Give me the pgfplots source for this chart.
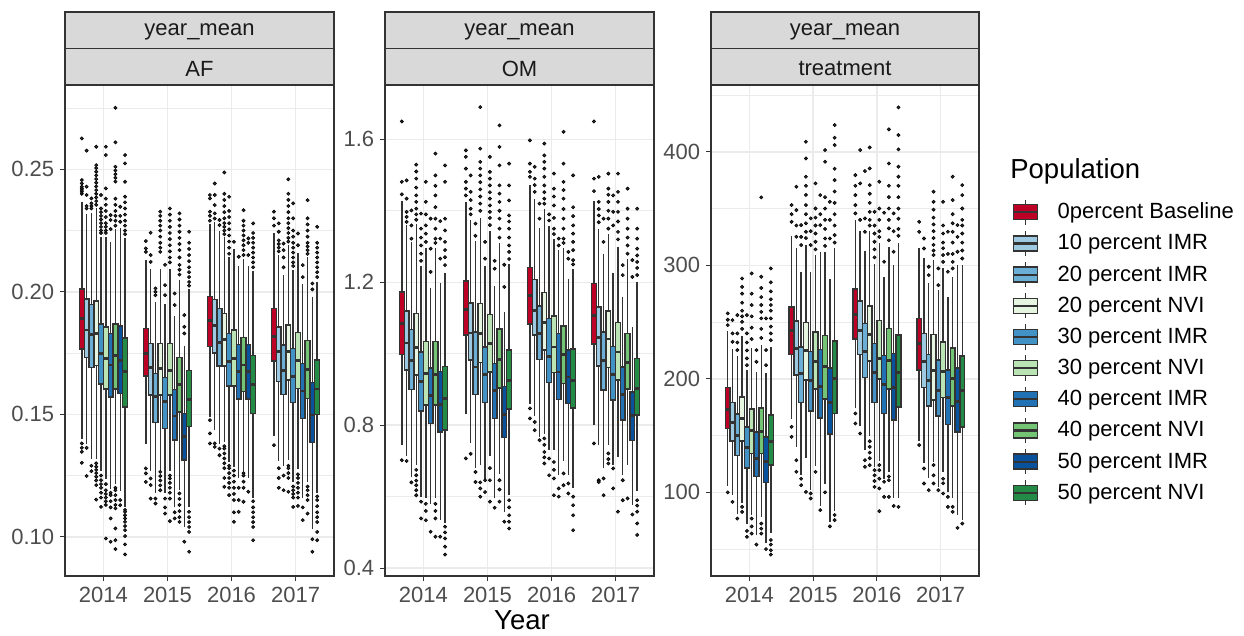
\documentclass[border=0pt]{standalone}
\usepackage{fontspec}
\setmainfont{Liberation Sans}
\usepackage{pgfplots}
\pgfplotsset{compat=1.18}
\usepgfplotslibrary{statistics}
\definecolor{c0}{HTML}{BD0026}
\definecolor{c1}{HTML}{9ECAE1}
\definecolor{c2}{HTML}{6BAED6}
\definecolor{c3}{HTML}{E5F5E0}
\definecolor{c4}{HTML}{4292C6}
\definecolor{c5}{HTML}{BAE4B3}
\definecolor{c6}{HTML}{2171B5}
\definecolor{c7}{HTML}{74C476}
\definecolor{c8}{HTML}{08519C}
\definecolor{c9}{HTML}{238B45}
\definecolor{gtwenty}{HTML}{333333}
\definecolor{gthirty}{HTML}{4D4D4D}
\definecolor{gten}{HTML}{1A1A1A}
\definecolor{gridc}{HTML}{EBEBEB}
\definecolor{stripc}{HTML}{D9D9D9}
\newcommand{\tfont}{\fontsize{13.2}{15.8}\selectfont}
\newcommand{\bfont}{\fontsize{16.5}{19.8}\selectfont}
\pgfplotsset{
  panel/.style={
    anchor=south west, scale only axis, height=294.6pt,
    xmin=0.4, xmax=4.6, xtick={1,2,3,4}, xticklabels={2014,2015,2016,2017},
    xtick pos=left, ytick pos=left, tick align=outside,
    major tick length=3pt, minor tick length=0pt,
    grid=both,
    major grid style={draw=gridc, line width=0.9pt},
    minor grid style={draw=gridc, line width=0.45pt},
    axis line style={draw=gtwenty, line width=0.9pt},
    tick style={draw=gtwenty, line width=0.7pt},
    ticklabel style={font=\tfont, text=gthirty},
    /pgf/number format/assume math mode=true,
  },
  bxp/.style={draw=gtwenty, line width=0.85pt, solid},
}
\newcommand{\bx}[8]{%
\addplot[bxp, fill=c#2, boxplot prepared={draw direction=y, draw position={#1+(#2-4.5)*0.075}, lower whisker=#3, lower quartile=#4, median=#5, upper quartile=#6, upper whisker=#7, box extend=0.075, whisker extend=0, every median/.style={line width=1.7pt}}] coordinates {};
\addplot[only marks, mark=*, mark size=0.95pt, mark options={draw=none, fill=gtwenty}] table[row sep=\\, x expr={#1+(#2-4.5)*0.075}, y index=0] {y\\#8};}
\begin{document}
\begin{tikzpicture}
\useasboundingbox (0,0) rectangle (746.4pt,381pt);
% ---------------- AF ----------------
\begin{axis}[panel, at={(39pt,35.4pt)}, width=161.4pt,
  ymin=0.084, ymax=0.2844, ytick={0.10,0.15,0.20,0.25}, minor ytick={0.125,0.175,0.225,0.275},
  yticklabel style={/pgf/number format/.cd, fixed, fixed zerofill, precision=2}]
\bx{1}{0}{0.140}{0.1766}{0.1891}{0.2011}{0.2366}{0.2400\\0.2408\\0.2415\\0.2422\\0.2429\\0.2442\\0.2456\\0.2626\\0.1381\\0.1363\\0.1347\\0.1302\\}
\bx{1}{1}{0.138}{0.1731}{0.1844}{0.1970}{0.2317}{0.2340\\0.2350\\0.2395\\0.2429\\0.2576\\0.1363\\0.1248\\}
\bx{1}{2}{0.1316}{0.1690}{0.1826}{0.1948}{0.2320}{0.2340\\0.2350\\0.2361\\0.2381\\0.1290\\0.1268\\}
\bx{1}{3}{0.1318}{0.1698}{0.1829}{0.1962}{0.2340}{0.2355\\0.2370\\0.2385\\0.2400\\0.2415\\0.2430\\0.2445\\0.2460\\0.2475\\0.2490\\0.2505\\0.2517\\0.2592\\0.1300\\0.1286\\0.1273\\0.1260\\0.1245\\0.1230\\0.1211\\0.1152\\}
\bx{1}{4}{0.1269}{0.1624}{0.1747}{0.1869}{0.2224}{0.2240\\0.2250\\0.2265\\0.2280\\0.2295\\0.2310\\0.2325\\0.2340\\0.2395\\0.1250\\0.1231\\0.1215\\0.1200\\0.1180\\0.1160\\0.1122\\}
\bx{1}{5}{0.1236}{0.1603}{0.1728}{0.1856}{0.2223}{0.2240\\0.2250\\0.2265\\0.2280\\0.2305\\0.2330\\0.2355\\0.2380\\0.2422\\0.2558\\0.2592\\0.1215\\0.1190\\0.1175\\0.1160\\0.1145\\0.1130\\0.0993\\}
\bx{1}{6}{0.1195}{0.1570}{0.1701}{0.1829}{0.2204}{0.2256\\0.2293\\0.2313\\0.1180\\0.1170\\0.1145\\0.1120\\0.1075\\0.0980\\}
\bx{1}{7}{0.1217}{0.1603}{0.1739}{0.1869}{0.2255}{0.2270\\0.2290\\0.2310\\0.2330\\0.2355\\0.2380\\0.2450\\0.2465\\0.2480\\0.2495\\0.2510\\0.2610\\0.2751\\0.1200\\0.1190\\0.1170\\0.1150\\0.1130\\0.1116\\0.1034\\0.0986\\0.0950\\}
\bx{1}{8}{0.1186}{0.1586}{0.1720}{0.1861}{0.2260}{0.2286\\0.2310\\0.2347\\0.1150\\0.1129\\}
\bx{1}{9}{0.1120}{0.1529}{0.1673}{0.1812}{0.2220}{0.2235\\0.2250\\0.2270\\0.2290\\0.2315\\0.2340\\0.2365\\0.2388\\0.2449\\0.2524\\0.2558\\0.1110\\0.1102\\0.1088\\0.1075\\0.1061\\0.1044\\0.1027\\0.1003\\0.0969\\0.0928\\}
\bx{2}{0}{0.138}{0.1657}{0.1748}{0.1850}{0.213}{0.2163\\0.2177\\0.2207\\0.1279\\0.1259\\0.1224\\}
\bx{2}{1}{0.127}{0.1578}{0.1690}{0.1789}{0.2095}{0.2122\\0.2150\\0.2241\\0.1238\\0.1211\\0.1156\\}
\bx{2}{2}{0.118}{0.1467}{0.1571}{0.1667}{0.1957}{0.1986\\0.2000\\0.2014\\0.1156\\0.1136\\}
\bx{2}{3}{0.127}{0.1578}{0.1687}{0.1789}{0.2095}{0.2163\\0.2180\\0.2200\\0.2225\\0.2250\\0.2270\\0.2290\\0.2310\\0.2327\\0.1265\\0.1248\\0.1230\\0.1210\\0.1190\\}
\bx{2}{4}{0.118}{0.1442}{0.1551}{0.1649}{0.1950}{0.1986\\0.2027\\0.2110\\0.1156\\0.1120\\0.1095\\}
\bx{2}{5}{0.127}{0.1578}{0.1680}{0.1789}{0.2095}{0.2120\\0.2140\\0.2165\\0.2190\\0.2215\\0.2240\\0.2265\\0.2290\\0.2315\\0.2340\\0.1250\\0.1238\\0.1220\\0.1200\\0.1180\\0.1156\\0.1064\\}
\bx{2}{6}{0.112}{0.1395}{0.1493}{0.1601}{0.1900}{0.1946\\0.1993\\0.1100\\0.1075\\}
\bx{2}{7}{0.119}{0.1509}{0.1622}{0.1731}{0.2050}{0.2070\\0.2090\\0.2110\\0.2140\\0.2170\\0.2195\\0.2220\\0.2245\\0.2270\\0.2295\\0.2320\\0.1177\\0.1155\\0.1130\\0.1105\\0.1080\\0.1061\\}
\bx{2}{8}{0.104}{0.1313}{0.1411}{0.1503}{0.1780}{0.1830\\0.1857\\0.1905\\0.0980\\}
\bx{2}{9}{0.112}{0.1449}{0.1561}{0.1678}{0.2010}{0.2025\\0.2040\\0.2060\\0.2080\\0.2100\\0.2125\\0.2150\\0.2175\\0.2200\\0.2245\\0.1102\\0.1080\\0.1060\\0.1040\\0.1020\\0.0939\\}
\bx{3}{0}{0.149}{0.1776}{0.1884}{0.1980}{0.2276}{0.2290\\0.2310\\0.2327\\0.2381\\0.2395\\0.1476\\0.1422\\0.1381\\}
\bx{3}{1}{0.1435}{0.1751}{0.1861}{0.1969}{0.2285}{0.2299\\0.2320\\0.2354\\0.2395\\0.2442\\0.1381\\0.1367\\}
\bx{3}{2}{0.138}{0.1697}{0.1793}{0.1932}{0.2250}{0.2272\\0.2293\\0.1360\\0.1333\\}
\bx{3}{3}{0.1387}{0.1697}{0.1805}{0.1912}{0.2222}{0.2235\\0.2250\\0.2265\\0.2280\\0.2300\\0.2325\\0.2350\\0.2375\\0.2400\\0.2487\\0.1370\\0.1360\\0.1340\\0.1320\\0.1300\\0.1280\\0.1240\\0.1204\\}
\bx{3}{4}{0.1305}{0.1615}{0.1717}{0.1830}{0.2140}{0.2155\\0.2180\\0.2205\\0.2230\\0.2255\\0.2280\\0.2305\\0.2330\\0.2388\\0.1290\\0.1280\\0.1260\\0.1240\\0.1220\\0.1200\\0.1170\\}
\bx{3}{5}{0.1285}{0.1615}{0.1728}{0.1844}{0.2174}{0.2204\\0.1270\\0.1250\\0.1225\\0.1200\\0.1175\\0.1150\\0.1100\\0.1061\\}
\bx{3}{6}{0.124}{0.1562}{0.1673}{0.1785}{0.2105}{0.2143\\0.1200\\0.1150\\0.1102\\}
\bx{3}{7}{0.127}{0.1592}{0.1701}{0.1814}{0.2134}{0.2150\\0.2170\\0.2190\\0.2210\\0.2230\\0.2250\\0.2270\\0.2290\\0.2333\\0.1260\\0.1250\\0.1225\\0.1200\\0.1143\\}
\bx{3}{8}{0.124}{0.1562}{0.1673}{0.1785}{0.2105}{0.2150\\0.2200\\0.2218\\0.1184\\}
\bx{3}{9}{0.116}{0.1503}{0.1623}{0.1741}{0.2086}{0.2100\\0.2120\\0.2140\\0.2160\\0.2180\\0.2200\\0.2220\\0.2240\\0.2279\\0.1145\\0.1120\\0.1100\\0.1080\\0.1060\\0.1040\\0.0986\\}
\bx{4}{0}{0.141}{0.1717}{0.1816}{0.1932}{0.224}{0.2270\\0.2300\\0.2327\\0.1374\\}
\bx{4}{1}{0.131}{0.1635}{0.1755}{0.1857}{0.215}{0.2165\\0.2180\\0.2195\\0.2210\\0.2245\\0.2279\\0.1280\\0.1240\\0.1200\\}
\bx{4}{2}{0.129}{0.1581}{0.1680}{0.1782}{0.207}{0.2100\\0.2140\\0.2170\\0.2197\\0.1250\\0.1190\\}
\bx{4}{3}{0.1315}{0.1640}{0.1755}{0.1864}{0.219}{0.2205\\0.2220\\0.2240\\0.2260\\0.2280\\0.2300\\0.2325\\0.2350\\0.2375\\0.2400\\0.2459\\0.1290\\0.1280\\0.1260\\0.1240\\0.1184\\}
\bx{4}{4}{0.1225}{0.1547}{0.1653}{0.1769}{0.209}{0.2105\\0.2120\\0.2140\\0.2160\\0.2180\\0.2200\\0.2225\\0.2250\\0.2300\\0.2361\\0.1205\\0.1190\\0.1175\\0.1160\\0.1122\\}
\bx{4}{5}{0.1275}{0.1605}{0.1720}{0.1834}{0.216}{0.2190\\0.2238\\0.1255\\0.1240\\0.1220\\0.1200\\0.1180\\0.1160\\0.1126\\}
\bx{4}{6}{0.116}{0.1483}{0.1595}{0.1707}{0.203}{0.2060\\0.2109\\0.1120\\0.1068\\}
\bx{4}{7}{0.1225}{0.1565}{0.1683}{0.1800}{0.214}{0.2155\\0.2170\\0.2185\\0.2200\\0.2225\\0.2250\\0.2275\\0.2300\\0.2374\\0.1205\\0.1190\\0.1170\\0.1150\\0.1095\\}
\bx{4}{8}{0.103}{0.1384}{0.1497}{0.1629}{0.198}{0.2010\\0.2034\\0.0990\\0.0939\\}
\bx{4}{9}{0.118}{0.1500}{0.1603}{0.1721}{0.204}{0.2060\\0.2080\\0.2100\\0.2120\\0.2140\\0.2160\\0.2180\\0.2200\\0.2265\\0.1165\\0.1150\\0.1125\\0.1100\\0.1080\\0.1060\\0.1020\\0.0986\\}
\end{axis}
% ---------------- OM ----------------
\begin{axis}[panel, at={(231pt,35.4pt)}, width=161.4pt,
  ymin=0.378, ymax=1.752, ytick={0.4,0.8,1.2,1.6}, minor ytick={0.6,1.0,1.4},
  yticklabel style={/pgf/number format/.cd, fixed, fixed zerofill, precision=1}]
\bx{1}{0}{0.744}{0.998}{1.084}{1.173}{1.427}{1.446\\1.481\\1.650\\0.702\\}
\bx{1}{1}{0.714}{0.954}{1.030}{1.119}{1.359}{1.369\\1.383\\1.397\\1.434\\1.485\\0.700\\}
\bx{1}{2}{0.656}{0.900}{0.981}{1.068}{1.312}{1.322\\1.359\\1.401\\0.640\\}
\bx{1}{3}{0.690}{0.940}{1.017}{1.112}{1.362}{1.375\\1.390\\1.406\\1.425\\1.443\\1.465\\1.490\\1.510\\1.529\\0.675\\0.660\\0.645\\0.632\\0.618\\0.604\\}
\bx{1}{4}{0.600}{0.840}{0.923}{1.005}{1.245}{1.260\\1.280\\1.303\\1.325\\1.350\\1.392\\0.586\\0.539\\}
\bx{1}{5}{0.596}{0.856}{0.944}{1.035}{1.295}{1.313\\1.336\\1.359\\1.390\\1.425\\1.481\\0.580\\0.560\\0.534\\}
\bx{1}{6}{0.580}{0.805}{0.884}{0.960}{1.185}{1.229\\1.294\\1.378\\0.502\\}
\bx{1}{7}{0.596}{0.856}{0.942}{1.035}{1.295}{1.310\\1.322\\1.350\\1.378\\1.410\\1.443\\1.470\\1.499\\1.560\\0.580\\0.560\\0.539\\0.488\\}
\bx{1}{8}{0.535}{0.781}{0.858}{0.951}{1.197}{1.266\\1.322\\1.371\\0.488\\}
\bx{1}{9}{0.526}{0.786}{0.875}{0.965}{1.225}{1.248\\1.270\\1.290\\1.313\\1.345\\1.378\\1.481\\1.527\\0.516\\0.500\\0.483\\0.460\\0.438\\}
\bx{2}{0}{0.832}{1.052}{1.124}{1.204}{1.424}{1.443\\1.462\\1.481\\1.518\\1.551\\1.569\\0.707\\}
\bx{2}{1}{0.750}{0.982}{1.058}{1.142}{1.374}{1.390\\1.406\\1.430\\1.453\\1.499\\0.720\\}
\bx{2}{2}{0.680}{0.886}{0.963}{1.061}{1.315}{1.330\\1.364\\0.669\\0.641\\}
\bx{2}{3}{0.690}{0.975}{1.056}{1.140}{1.380}{1.400\\1.420\\1.440\\1.460\\1.480\\1.499\\1.518\\1.537\\1.574\\1.690\\0.640\\0.623\\0.600\\}
\bx{2}{4}{0.650}{0.863}{0.942}{1.019}{1.245}{1.266\\1.313\\0.646\\0.613\\}
\bx{2}{5}{0.715}{0.949}{1.028}{1.110}{1.344}{1.360\\1.380\\1.397\\1.415\\1.434\\1.452\\1.471\\1.490\\1.509\\1.551\\0.680\\0.646\\0.586\\}
\bx{2}{6}{0.595}{0.818}{0.898}{0.972}{1.190}{1.238\\1.260\\0.569\\}
\bx{2}{7}{0.664}{0.904}{0.985}{1.069}{1.309}{1.325\\1.350\\1.378\\1.400\\1.425\\1.448\\1.471\\1.527\\1.579\\1.639\\0.646\\0.620\\0.586\\}
\bx{2}{8}{0.556}{0.765}{0.830}{0.909}{1.118}{1.187\\1.249\\0.530\\}
\bx{2}{9}{0.605}{0.845}{0.926}{1.010}{1.250}{1.265\\1.285\\1.303\\1.325\\1.350\\1.370\\1.387\\1.429\\1.471\\1.532\\0.590\\0.570\\0.548\\0.530\\0.511\\}
\bx{3}{0}{0.860}{1.083}{1.162}{1.241}{1.471}{1.495\\1.509\\1.532\\1.597\\0.847\\0.819\\}
\bx{3}{1}{0.827}{1.052}{1.122}{1.207}{1.432}{1.453\\1.472\\1.490\\1.523\\0.809\\0.786\\}
\bx{3}{2}{0.766}{0.984}{1.056}{1.134}{1.352}{1.378\\1.420\\0.758\\}
\bx{3}{3}{0.776}{1.010}{1.087}{1.171}{1.405}{1.420\\1.434\\1.452\\1.471\\1.495\\1.518\\1.537\\1.555\\1.588\\0.763\\0.745\\0.725\\0.710\\0.693\\}
\bx{3}{4}{0.730}{0.919}{0.993}{1.098}{1.358}{1.373\\1.390\\0.707\\0.660\\}
\bx{3}{5}{0.730}{0.947}{1.019}{1.106}{1.320}{1.335\\1.350\\1.380\\1.415\\1.440\\1.462\\1.504\\0.697\\0.675\\0.651\\0.604\\}
\bx{3}{6}{0.660}{0.872}{0.949}{1.056}{1.290}{1.303\\1.322\\0.623\\0.600\\}
\bx{3}{7}{0.700}{0.917}{0.998}{1.078}{1.295}{1.310\\1.322\\1.350\\1.378\\1.405\\1.434\\1.458\\1.481\\1.532\\1.621\\0.665\\0.632\\}
\bx{3}{8}{0.660}{0.860}{0.935}{1.010}{1.210}{1.266\\1.285\\0.637\\0.609\\}
\bx{3}{9}{0.625}{0.848}{0.926}{1.013}{1.236}{1.250\\1.262\\1.290\\1.313\\1.336\\1.359\\1.385\\1.410\\1.499\\0.600\\0.576\\0.548\\0.506\\}
\bx{4}{0}{0.800}{1.027}{1.108}{1.196}{1.426}{1.455\\1.490\\1.650\\0.749\\}
\bx{4}{1}{0.745}{0.966}{1.045}{1.131}{1.350}{1.368\\1.387\\1.405\\1.425\\1.495\\0.646\\0.641\\}
\bx{4}{2}{0.680}{0.898}{0.982}{1.061}{1.280}{1.313\\1.378\\0.651\\0.604\\}
\bx{4}{3}{0.745}{0.961}{1.041}{1.120}{1.335}{1.350\\1.378\\1.400\\1.425\\1.445\\1.462\\1.504\\0.721\\0.705\\0.693\\}
\bx{4}{4}{0.690}{0.870}{0.942}{1.021}{1.226}{1.359\\1.397\\1.443\\0.679\\0.623\\}
\bx{4}{5}{0.710}{0.926}{1.005}{1.087}{1.300}{1.320\\1.341\\1.370\\1.397\\1.425\\1.453\\1.504\\0.558\\}
\bx{4}{6}{0.660}{0.814}{0.887}{0.963}{1.160}{1.220\\1.248\\0.646\\0.590\\}
\bx{4}{7}{0.690}{0.901}{0.975}{1.056}{1.265}{1.280\\1.303\\1.325\\1.350\\1.378\\1.406\\1.462\\0.595\\}
\bx{4}{8}{0.576}{0.758}{0.828}{0.893}{1.075}{1.215\\1.262\\0.550\\}
\bx{4}{9}{0.615}{0.828}{0.903}{0.986}{1.200}{1.220\\1.240\\1.257\\1.275\\1.294\\1.322\\1.350\\1.406\\0.590\\0.575\\0.558\\0.525\\0.493\\}
\end{axis}
% ---------------- treatment ----------------
\begin{axis}[panel, at={(426.6pt,35.4pt)}, width=160.8pt,
  ymin=26.3, ymax=458.8, ytick={100,200,300,400}, minor ytick={50,150,250,350,450}]
\bx{1}{0}{106}{156.2}{173.3}{192.1}{242}{247.3\\252\\257.6\\100\\}
\bx{1}{1}{98}{145.1}{161.5}{178.9}{226}{232.6\\240\\251.7\\91.6\\}
\bx{1}{2}{81}{132.2}{149.8}{168.9}{220}{225.3\\232\\240\\256.1\\76.9\\}
\bx{1}{3}{91}{145.1}{165.1}{183.8}{238}{244\\250.2\\255\\260\\267\\275\\281\\288.4\\87.2\\82.8\\}
\bx{1}{4}{72}{121.6}{139.5}{157.7}{208}{212\\218\\225\\232\\240\\256.1\\66\\60.8\\}
\bx{1}{5}{80}{134.2}{154.2}{173.3}{227}{235\\245\\255\\265\\275\\292.8\\76.9\\70\\63.7\\}
\bx{1}{6}{62}{113.7}{129.8}{153.3}{206}{215\\225.3\\54.0\\}
\bx{1}{7}{78}{134.2}{153.3}{174.4}{230}{236\\244\\253.2\\259\\265\\272\\280\\289.9\\359.8\\72.5\\68\\63.7\\}
\bx{1}{8}{55}{108.7}{126.9}{148.9}{205}{212\\225.3\\253.2\\50\\}
\bx{1}{9}{64}{124.0}{145.1}{168.0}{228}{234\\240\\246\\253.2\\260\\265\\270\\277\\285\\297.2\\58\\54.0\\49\\45.2\\}
\bx{2}{0}{165}{221.4}{242.9}{263.4}{326}{338.3\\345\\353.0\\157.7\\148.9\\}
\bx{2}{1}{140}{203.2}{226.7}{250.8}{315}{325.1\\335\\348.6\\369.2\\128.3\\118.1\\}
\bx{2}{2}{115}{179.1}{204.7}{228.2}{294}{317.8\\325\\335.4\\112\\106.3\\}
\bx{2}{3}{130}{198.8}{225.3}{249.6}{318}{324\\329.5\\337\\345\\353\\362\\370\\378\\394.1\\408.8\\100.4\\}
\bx{2}{4}{102}{171.5}{198.8}{223.8}{294}{317.8\\330\\341.3\\99\\94.6\\}
\bx{2}{5}{123}{190.9}{215.0}{241.4}{309}{314\\320.7\\328\\335\\342\\350\\372.1\\118\\}
\bx{2}{6}{88}{165.6}{192.9}{225.8}{312}{335.4\\345\\361.8\\84.3\\}
\bx{2}{7}{107}{182.1}{210.6}{237.9}{312}{317\\323.6\\332\\340\\350\\360\\391.2\\401.5\\100\\}
\bx{2}{8}{74}{151.5}{179.1}{209.7}{288}{323.6\\340\\355.9\\70\\}
\bx{2}{9}{84}{169.5}{200.3}{233.2}{315}{320\\326.6\\335\\345\\355\\365\\375\\385\\405.9\\412.3\\423.5\\80\\75.5\\}
\bx{3}{0}{174}{235.0}{256.7}{279.0}{340}{345.7\\353.0\\361.8\\370\\379.4\\169.5\\160.6\\}
\bx{3}{1}{158}{221.4}{242.9}{268.4}{330}{340\\372.1\\401.5\\151.8\\}
\bx{3}{2}{137}{201.2}{223.8}{248.7}{313}{329.5\\341.3\\383.0\\128.3\\122.5\\}
\bx{3}{3}{150}{215.6}{239.1}{264.3}{330}{335\\340\\347\\355\\363\\370.6\\385.3\\403.8\\145\\140.1\\135\\130\\123.9\\}
\bx{3}{4}{122}{179.1}{205.6}{231.1}{301}{307\\314\\320.7\\328\\335\\347.1\\119.5\\115\\110\\104.8\\}
\bx{3}{5}{128}{199.7}{217.9}{251.4}{320}{325\\330\\340\\350\\373.6\\124\\119.5\\112\\103.4\\83.4\\}
\bx{3}{6}{112}{169.5}{195.0}{220.3}{290}{303.1\\346.3\\109.3\\96.0\\}
\bx{3}{7}{118}{190.9}{216.4}{244.3}{316}{322\\332.5\\340\\350\\360\\370\\389.7\\419.7\\114\\110.7\\96.0\\}
\bx{3}{8}{95}{163.6}{192.1}{222.3}{300}{311.9\\330\\345.7\\88\\}
\bx{3}{9}{95}{175.3}{205.6}{238.5}{320}{326\\332\\341\\350\\360\\370\\378\\386.8\\402.1\\414.7\\439.1\\87.2\\}
\bx{4}{0}{145}{207.6}{231.1}{253.2}{315}{329.5\\338.3\\141.6\\}
\bx{4}{1}{126}{192.1}{215.6}{239.9}{306}{314.8\\323.6\\121.0\\107.8\\}
\bx{4}{2}{113}{176.2}{198.8}{221.4}{284}{291.3\\298.7\\101.9\\}
\bx{4}{3}{127}{181.2}{207.0}{239.1}{305}{309\\313\\318\\324\\330\\336\\342\\349\\355.9\\364.8\\124\\115\\107.8\\}
\bx{4}{4}{105}{167.4}{190.0}{216.4}{278}{282.5\\297.2\\101.9\\}
\bx{4}{5}{118}{183.6}{206.8}{232.6}{298}{303\\309\\315\\320\\328\\335\\355.9\\112\\108\\99.0\\}
\bx{4}{6}{100}{159.8}{183.3}{207.6}{272}{294.3\\310\\329.5\\96.0\\87.2\\}
\bx{4}{7}{95}{176.2}{200.3}{227.3}{290}{297.2\\303\\310\\320\\329.5\\337\\345\\357.4\\378.0\\87.2\\82.8\\}
\bx{4}{8}{80}{153.3}{180.3}{209.7}{300}{311.9\\325\\335.4\\68.7\\}
\bx{4}{9}{76}{157.7}{190.0}{220.0}{300}{306\\313\\320\\328\\335\\340\\350\\361.8\\370.6\\72.5\\}
\end{axis}
% ---------------- legend ----------------
\begin{axis}[at={(607.2pt,263.2pt)}, anchor=north west, hide axis, scale only axis,
  width=10pt, height=10pt, xmin=0, xmax=1, ymin=0, ymax=1,
  legend cell align=left,
  legend style={at={(0,1)}, anchor=north west, draw=none, fill=none, inner sep=0pt,
    row sep=0pt, column sep=11pt, font=\tfont, nodes={inner sep=0.5pt}},
  legend image code/.code={
    \path[draw=none, fill=none] (0pt,-9.35pt) rectangle (14.4pt,9.35pt);
    \draw[fill=none, draw=gtwenty, line width=0.8pt] (7.2pt,4.5pt) -- (7.2pt,7.6pt);
    \draw[fill=none, draw=gtwenty, line width=0.8pt] (7.2pt,-4.5pt) -- (7.2pt,-7.6pt);
    \draw[#1, draw=gtwenty, line width=0.8pt] (0pt,-4.5pt) rectangle (14.4pt,4.5pt);
    \draw[fill=none, draw=gtwenty, line width=1.3pt] (0pt,0pt) -- (14.4pt,0pt);
  }]
\addlegendimage{fill=c0}\addlegendentry{0percent Baseline}
\addlegendimage{fill=c1}\addlegendentry{10 percent IMR}
\addlegendimage{fill=c2}\addlegendentry{20 percent IMR}
\addlegendimage{fill=c3}\addlegendentry{20 percent NVI}
\addlegendimage{fill=c4}\addlegendentry{30 percent IMR}
\addlegendimage{fill=c5}\addlegendentry{30 percent NVI}
\addlegendimage{fill=c6}\addlegendentry{40 percent IMR}
\addlegendimage{fill=c7}\addlegendentry{40 percent NVI}
\addlegendimage{fill=c8}\addlegendentry{50 percent IMR}
\addlegendimage{fill=c9}\addlegendentry{50 percent NVI}
\end{axis}
% ---------------- strips and titles ----------------
\draw[fill=stripc, draw=gtwenty, line width=0.7pt] (39pt,351.9pt) rectangle (200.4pt,373.8pt);
\draw[fill=stripc, draw=gtwenty, line width=0.7pt] (39pt,330pt) rectangle (200.4pt,351.9pt);
\draw[fill=stripc, draw=gtwenty, line width=0.7pt] (231pt,351.9pt) rectangle (392.4pt,373.8pt);
\draw[fill=stripc, draw=gtwenty, line width=0.7pt] (231pt,330pt) rectangle (392.4pt,351.9pt);
\draw[fill=stripc, draw=gtwenty, line width=0.7pt] (426.6pt,351.9pt) rectangle (587.4pt,373.8pt);
\draw[fill=stripc, draw=gtwenty, line width=0.7pt] (426.6pt,330pt) rectangle (587.4pt,351.9pt);
\node[font=\tfont, text=gten, inner sep=0pt] at (119.7pt,361.6pt) {year\_mean};
\node[font=\tfont, text=gten, inner sep=0pt] at (119.7pt,339.8pt) {AF};
\node[font=\tfont, text=gten, inner sep=0pt] at (311.7pt,361.6pt) {year\_mean};
\node[font=\tfont, text=gten, inner sep=0pt] at (311.7pt,339.8pt) {OM};
\node[font=\tfont, text=gten, inner sep=0pt] at (507pt,361.6pt) {year\_mean};
\node[font=\tfont, text=gten, inner sep=0pt] at (507pt,339.8pt) {treatment};
\node[font=\bfont, anchor=base, inner sep=0pt] at (313.2pt,3.2pt) {Year};
\node[font=\bfont, anchor=base west, inner sep=0pt] at (606pt,274.2pt) {Population};
\end{tikzpicture}
\end{document}
